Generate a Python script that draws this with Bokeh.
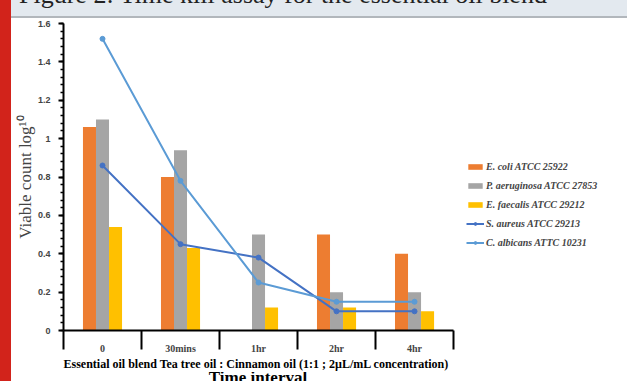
from bokeh.plotting import figure
from bokeh.models import (LinearAxis, FixedTicker, NumeralTickFormatter, Legend, LegendItem,
                          ColumnDataSource, Div, Title)
from bokeh.layouts import row, column
from bokeh.embed import file_html
from bokeh.resources import INLINE

categories = ["0", "30mins", "1hr", "2hr", "4hr"]
e_coli = [1.06, 0.80, 0.0, 0.50, 0.40]
p_aeruginosa = [1.10, 0.94, 0.50, 0.20, 0.20]
e_faecalis = [0.54, 0.43, 0.12, 0.12, 0.10]
s_aureus = [0.86, 0.45, 0.38, 0.10, 0.10]
c_albicans = [1.52, 0.78, 0.25, 0.15, 0.15]
y_ticks = [0, 0.2, 0.4, 0.6, 0.8, 1.0, 1.2, 1.4, 1.6]

bar_series = [
    ("E. coli ATCC 25922", e_coli, "#ED7D31", -1),
    ("P. aeruginosa ATCC 27853", p_aeruginosa, "#A5A5A5", 0),
    ("E. faecalis ATCC 29212", e_faecalis, "#FFC000", 1),
]
line_series = [
    ("S. aureus ATCC 29213", s_aureus, "#4472C4"),
    ("C. albicans ATTC 10231", c_albicans, "#5B9BD5"),
]
page_title = "Figure 2: Time kill assay for the essential oil blend"
group_label = "Essential oil blend Tea tree oil : Cinnamon oil (1:1 ; 2\u00b5L/mL concentration)"
x_title = "Time interval"

idx = list(range(len(categories)))
bw = 0.167

p = figure(width=616, height=354, output_backend="svg", toolbar_location=None,
           x_range=(-0.5, 6.73), y_range=(0, 1.6),
           min_border_left=52, min_border_right=0, min_border_top=5, min_border_bottom=42,
           x_axis_location=None, y_axis_location=None)
p.grid.visible = False
p.outline_line_color = None
p.background_fill_color = "white"
p.border_fill_color = "white"

items = []
for name, vals, color, off in bar_series:
    src = ColumnDataSource(dict(x=[i + off * bw for i in idx], top=vals))
    r = p.vbar(x="x", top="top", width=bw, bottom=0, source=src, fill_color=color, line_color=None)
    items.append(LegendItem(label=name, renderers=[r]))
for name, vals, color in line_series:
    src = ColumnDataSource(dict(x=idx, y=vals))
    rl = p.line(x="x", y="y", source=src, line_color=color, line_width=2)
    rs = p.scatter(x="x", y="y", source=src, size=5, fill_color=color, line_color=color)
    items.append(LegendItem(label=name, renderers=[rl, rs]))

# y axis
yax = LinearAxis(ticker=FixedTicker(ticks=y_ticks, minor_ticks=[i * 0.04 for i in range(41)]),
                 formatter=NumeralTickFormatter(format="0.[0]"))
yax.axis_line_color = "black"
yax.axis_line_width = 2
yax.major_tick_out = 5
yax.major_tick_in = 0
yax.minor_tick_out = 3
yax.minor_tick_in = 0
yax.major_tick_line_width = 2
yax.minor_tick_line_width = 1.5
yax.major_label_text_font = "Liberation Sans"
yax.major_label_text_font_style = "bold"
yax.major_label_text_font_size = "9px"
yax.major_label_standoff = 8
yax.axis_label = "Viable count log\u00b9\u2070"
yax.axis_label_text_font = "Liberation Serif"
yax.axis_label_text_font_style = "normal"
yax.axis_label_text_font_size = "17px"
yax.axis_label_standoff = 0
p.add_layout(yax, "left")

# x axis: labels at category centres, separators at category boundaries
xax = LinearAxis(ticker=FixedTicker(ticks=idx, minor_ticks=[i - 0.5 for i in range(len(categories) + 1)]),
                 bounds=(-0.5, len(categories) - 0.5))
xax.major_label_overrides = {i: c for i, c in zip(idx, categories)}
xax.axis_line_color = "black"
xax.axis_line_width = 2
xax.major_tick_out = 19
xax.major_tick_in = 0
xax.major_tick_line_color = None
xax.minor_tick_out = 19
xax.minor_tick_in = 0
xax.minor_tick_line_width = 2
xax.minor_tick_line_color = "black"
xax.major_label_text_font = "Liberation Serif"
xax.major_label_text_font_style = "bold"
xax.major_label_text_font_size = "10px"
xax.major_label_standoff = -7
p.add_layout(xax, "below")

p.add_layout(Title(text=group_label, align="left", vertical_align="top", offset=0, standoff=0,
                   text_font="Liberation Serif", text_font_style="bold",
                   text_font_size="12px", text_color="black"), "below")

legend = Legend(items=items, location=(403, 82), padding=0, margin=0, border_line_color=None,
                background_fill_alpha=0, glyph_width=18, glyph_height=7, label_height=12,
                spacing=7, label_standoff=2, label_text_font="Liberation Serif",
                label_text_font_style="bold italic", label_text_font_size="10px")
p.add_layout(legend, "center")

red_strip = Div(width=11, height=381, margin=0, styles={"background-color": "#D2231B"})
band = Div(text=('<div style="position:relative; top:-18px; left:8px; white-space:nowrap; '
                 'font-family:\'Liberation Serif\'; font-size:26px; line-height:26px; color:#222;">'
                 + page_title + '</div>'),
           width=616, height=16, margin=0,
           styles={"background-color": "#E3E9EF", "overflow": "hidden"})
band_line = Div(width=616, height=2, margin=0, styles={"background-color": "#B2B7BC"})
time_div = Div(text=('<div style="position:relative; top:-3px; width:494px; text-align:center; '
                     'white-space:nowrap; font-family:\'Liberation Serif\'; font-weight:bold; '
                     'font-size:17px; line-height:17px; color:black;">' + x_title + '</div>'),
               width=616, height=9, margin=0, styles={"overflow": "hidden"})
page = row(red_strip, column(band, band_line, p, time_div, spacing=0), spacing=0)

open("out.html", "w").write(file_html(page, INLINE))
